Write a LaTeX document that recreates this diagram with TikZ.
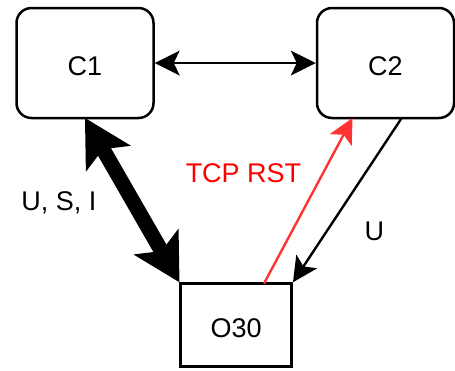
\documentclass[tikz,border=0pt]{standalone}
\usepackage{fontspec}
\setmainfont{Liberation Sans}
\usetikzlibrary{arrows.meta}
\definecolor{rstline}{HTML}{FF3333}
\definecolor{rsttext}{HTML}{FF0000}
\tikzset{
  txt/.style={font=\fontsize{27}{31}\selectfont},
  peer/.style={txt, draw, line width=2.5pt, rounded corners=15pt, minimum width=137pt, minimum height=110pt, inner sep=0pt, text height=25.5pt, text depth=0pt},
  origin/.style={txt, draw, line width=2.5pt, minimum width=111pt, minimum height=83pt, inner sep=0pt, text height=25pt, text depth=0pt},
  lbl/.style={txt, anchor=base, inner sep=0pt},
  tip/.style={Stealth[length=25pt,width=25pt,inset=6pt,line width=0pt]},
  bigtip/.style={Stealth[length=47pt,width=52pt,inset=11pt,line width=0pt]},
  thin/.style={line width=2.4pt, -{Stealth[length=25pt,width=25pt,inset=6pt,line width=0pt]}},
  thinboth/.style={line width=2.4pt, {Stealth[length=25pt,width=25pt,inset=6pt,line width=0pt]}-{Stealth[length=25pt,width=25pt,inset=6pt,line width=0pt]}},
  heavy/.style={line width=15pt, {Stealth[length=47pt,width=52pt,inset=11pt,line width=0pt]}-{Stealth[length=47pt,width=52pt,inset=11pt,line width=0pt]}}
}
\begin{document}
\begin{tikzpicture}[x=1pt,y=-1pt]
\useasboundingbox (0,0) rectangle (455,370);
\node[peer] (c1) at (85,63) {C1};
\node[peer] (c2) at (385.5,63) {C2};
\node[origin] (o30) at (236.2,325) {O30};
\coordinate (c1b) at (85,118);
\coordinate (c2r) at (352.5,118);
\coordinate (c2u) at (401.7,118);
\coordinate (o30r) at (264,283.5);
\draw[thinboth] (c1.east) -- (c2.west);
\draw[heavy] (c1b) -- (o30.north west);
\draw[thin, draw=rstline, fill=rstline] (o30r) -- (c2r);
\draw[thin] (c2u) -- (o30.north east);
\node[lbl, text=rsttext] (rst) at (243.5,182.7) {TCP RST};
\node[lbl] (usi) at (59,210) {U, S, I};
\node[lbl] (u) at (374.3,240.7) {U};
\end{tikzpicture}
\end{document}
